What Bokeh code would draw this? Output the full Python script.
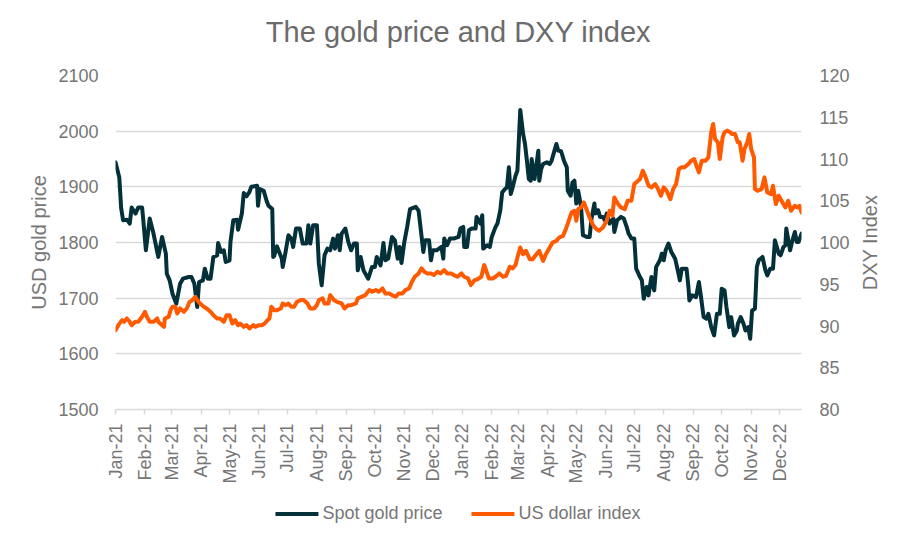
import math
import pandas as pd
from bokeh.plotting import figure
from bokeh.layouts import column, row
from bokeh.models import (Range1d, LinearAxis, FixedTicker, DatetimeTickFormatter,
                          Legend, LegendItem)
from bokeh.embed import file_html
from bokeh.resources import INLINE

# ---------------- data ----------------
gold_dates = [
    "2021-01-01", "2021-01-05", "2021-01-07", "2021-01-09", "2021-01-13", "2021-01-16",
    "2021-01-18", "2021-01-22", "2021-01-25", "2021-01-29", "2021-01-30", "2021-02-02",
    "2021-02-06", "2021-02-10", "2021-02-15", "2021-02-19", "2021-02-23", "2021-02-24",
    "2021-02-27", "2021-03-02", "2021-03-06", "2021-03-10", "2021-03-13", "2021-03-19",
    "2021-03-22", "2021-03-25", "2021-03-28", "2021-03-30", "2021-04-03", "2021-04-05",
    "2021-04-08", "2021-04-11", "2021-04-14", "2021-04-18", "2021-04-19", "2021-04-22",
    "2021-04-25", "2021-04-27", "2021-05-01", "2021-05-02", "2021-05-05", "2021-05-09",
    "2021-05-10", "2021-05-14", "2021-05-16", "2021-05-19", "2021-05-22", "2021-05-24",
    "2021-05-30", "2021-05-31", "2021-06-02", "2021-06-06", "2021-06-09", "2021-06-11",
    "2021-06-15", "2021-06-16", "2021-06-17", "2021-06-20", "2021-06-25", "2021-06-26",
    "2021-06-29", "2021-07-02", "2021-07-05", "2021-07-07", "2021-07-10", "2021-07-14",
    "2021-07-17", "2021-07-21", "2021-07-23", "2021-07-25", "2021-07-28", "2021-08-01",
    "2021-08-03", "2021-08-06", "2021-08-09", "2021-08-12", "2021-08-15", "2021-08-18",
    "2021-08-20", "2021-08-23", "2021-08-25", "2021-08-27", "2021-08-31", "2021-09-03",
    "2021-09-06", "2021-09-09", "2021-09-12", "2021-09-13", "2021-09-16", "2021-09-19",
    "2021-09-21", "2021-09-24", "2021-09-28", "2021-10-01", "2021-10-03", "2021-10-07",
    "2021-10-10", "2021-10-12", "2021-10-15", "2021-10-19", "2021-10-22", "2021-10-25",
    "2021-10-27", "2021-10-29", "2021-11-01", "2021-11-04", "2021-11-07", "2021-11-13",
    "2021-11-16", "2021-11-18", "2021-11-21", "2021-11-23", "2021-11-27", "2021-11-29",
    "2021-12-01", "2021-12-05", "2021-12-10", "2021-12-12", "2021-12-13", "2021-12-16",
    "2021-12-19", "2021-12-23", "2021-12-28", "2021-12-30",
    "2022-01-02", "2022-01-03", "2022-01-06", "2022-01-08", "2022-01-11", "2022-01-15",
    "2022-01-16", "2022-01-20", "2022-01-22", "2022-01-23", "2022-01-27", "2022-01-30",
    "2022-02-01", "2022-02-05", "2022-02-07", "2022-02-10", "2022-02-12", "2022-02-15",
    "2022-02-17", "2022-02-19", "2022-02-21", "2022-02-23", "2022-02-26", "2022-02-28",
    "2022-03-03", "2022-03-06", "2022-03-08", "2022-03-10", "2022-03-12", "2022-03-14",
    "2022-03-15", "2022-03-18", "2022-03-22", "2022-03-23", "2022-03-25", "2022-03-27",
    "2022-03-31", "2022-04-03", "2022-04-05", "2022-04-08", "2022-04-10", "2022-04-12",
    "2022-04-15", "2022-04-18", "2022-04-21", "2022-04-22", "2022-04-25", "2022-04-27",
    "2022-04-29", "2022-05-01", "2022-05-03", "2022-05-06", "2022-05-08", "2022-05-12",
    "2022-05-15", "2022-05-17", "2022-05-20", "2022-05-21", "2022-05-24", "2022-05-26",
    "2022-05-29", "2022-05-31", "2022-06-02", "2022-06-05", "2022-06-09", "2022-06-10",
    "2022-06-13", "2022-06-17", "2022-06-20", "2022-06-23", "2022-06-25", "2022-06-28",
    "2022-07-01", "2022-07-03", "2022-07-07", "2022-07-09", "2022-07-11", "2022-07-14",
    "2022-07-16", "2022-07-19", "2022-07-22", "2022-07-24", "2022-07-28", "2022-07-30",
    "2022-08-01", "2022-08-03", "2022-08-06", "2022-08-09", "2022-08-13", "2022-08-15",
    "2022-08-18", "2022-08-20", "2022-08-25", "2022-08-27", "2022-08-28", "2022-08-31",
    "2022-09-04", "2022-09-07", "2022-09-09", "2022-09-12", "2022-09-15", "2022-09-17",
    "2022-09-20", "2022-09-23", "2022-09-26", "2022-09-29", "2022-10-01", "2022-10-04",
    "2022-10-06", "2022-10-09", "2022-10-11", "2022-10-14", "2022-10-17", "2022-10-18",
    "2022-10-21", "2022-10-24", "2022-10-26", "2022-10-29", "2022-10-31", "2022-11-02",
    "2022-11-05", "2022-11-07", "2022-11-09", "2022-11-13", "2022-11-16", "2022-11-18",
    "2022-11-21", "2022-11-24", "2022-11-26", "2022-11-30", "2022-12-02", "2022-12-05",
    "2022-12-07", "2022-12-08", "2022-12-12", "2022-12-14", "2022-12-17", "2022-12-19",
    "2022-12-21", "2022-12-24",
]
gold_price = [
    1944, 1917, 1861, 1840, 1841, 1834,
    1863, 1852, 1863, 1863, 1845, 1786,
    1843, 1816, 1774, 1810, 1780, 1744,
    1732, 1708, 1690, 1726, 1735, 1738,
    1738, 1726, 1684, 1729, 1732, 1753,
    1735, 1735, 1774, 1777, 1799, 1783,
    1786, 1765, 1768, 1801, 1840, 1841,
    1823, 1852, 1889, 1883, 1891, 1900,
    1902, 1866, 1896, 1893, 1875, 1866,
    1860, 1774, 1776, 1793, 1771, 1756,
    1783, 1813, 1807, 1792, 1825, 1825,
    1798, 1798, 1831, 1798, 1831, 1831,
    1762, 1723, 1777, 1789, 1786, 1807,
    1789, 1813, 1786, 1816, 1825, 1801,
    1786, 1798, 1798, 1750, 1774, 1750,
    1744, 1735, 1756, 1756, 1774, 1759,
    1799, 1768, 1771, 1810, 1804, 1771,
    1792, 1763, 1801, 1828, 1860, 1864,
    1857, 1828, 1783, 1804, 1804, 1768,
    1786, 1786, 1792, 1771, 1807, 1795,
    1807, 1807, 1810, 1825,
    1828, 1792, 1792, 1822, 1825, 1825,
    1846, 1834, 1849, 1789, 1795, 1792,
    1810, 1828, 1834, 1858, 1890, 1896,
    1899, 1935, 1887, 1899, 1920, 1929,
    2038, 1995, 1977, 1947, 1914, 1911,
    1950, 1914, 1965, 1911, 1932, 1941,
    1944, 1941, 1947, 1965, 1977, 1965,
    1964, 1947, 1935, 1893, 1884, 1908,
    1911, 1870, 1893, 1864, 1813, 1810,
    1810, 1843, 1870, 1852, 1858, 1846,
    1846, 1840, 1852, 1834, 1843, 1819,
    1840, 1846, 1843, 1828, 1816, 1807,
    1807, 1753, 1738, 1732, 1699, 1720,
    1705, 1738, 1714, 1756, 1768, 1780,
    1768, 1786, 1798, 1783, 1771, 1756,
    1732, 1753, 1753, 1720, 1696, 1705,
    1702, 1729, 1705, 1666, 1663, 1672,
    1648, 1633, 1672, 1672, 1717, 1714,
    1684, 1648, 1666, 1633, 1642, 1654,
    1666, 1654, 1642, 1648, 1627, 1678,
    1681, 1756, 1768, 1774, 1750, 1741,
    1753, 1753, 1804, 1780, 1777, 1792,
    1795, 1825, 1786, 1801, 1819, 1801,
    1801, 1816,
]

dxy_dates = [
    "2021-01-01", "2021-01-04", "2021-01-08", "2021-01-10", "2021-01-13", "2021-01-16",
    "2021-01-18", "2021-01-22", "2021-01-25", "2021-01-29", "2021-02-01", "2021-02-03",
    "2021-02-06", "2021-02-10", "2021-02-14", "2021-02-15", "2021-02-19", "2021-02-21",
    "2021-02-22", "2021-02-26", "2021-02-28", "2021-03-02", "2021-03-05", "2021-03-07",
    "2021-03-10", "2021-03-14", "2021-03-17", "2021-03-20", "2021-03-22", "2021-03-26",
    "2021-03-28", "2021-03-31", "2021-04-04", "2021-04-07", "2021-04-11", "2021-04-14",
    "2021-04-18", "2021-04-21", "2021-04-25", "2021-04-28", "2021-05-01", "2021-05-04",
    "2021-05-07", "2021-05-10", "2021-05-12", "2021-05-16", "2021-05-19", "2021-05-22",
    "2021-05-26", "2021-05-28", "2021-06-01", "2021-06-04", "2021-06-07", "2021-06-10",
    "2021-06-12", "2021-06-14", "2021-06-17", "2021-06-20", "2021-06-24", "2021-06-26",
    "2021-06-29", "2021-07-02", "2021-07-05", "2021-07-08", "2021-07-11", "2021-07-15",
    "2021-07-18", "2021-07-22", "2021-07-25", "2021-07-29", "2021-08-01", "2021-08-03",
    "2021-08-07", "2021-08-09", "2021-08-13", "2021-08-15", "2021-08-19", "2021-08-22",
    "2021-08-27", "2021-08-30", "2021-09-03", "2021-09-06", "2021-09-11", "2021-09-13",
    "2021-09-17", "2021-09-21", "2021-09-25", "2021-09-28", "2021-10-02", "2021-10-05",
    "2021-10-09", "2021-10-12", "2021-10-16", "2021-10-19", "2021-10-23", "2021-10-26",
    "2021-10-30", "2021-11-02", "2021-11-06", "2021-11-09", "2021-11-12", "2021-11-16",
    "2021-11-19", "2021-11-22", "2021-11-25", "2021-11-29", "2021-12-02", "2021-12-06",
    "2021-12-09", "2021-12-13", "2021-12-16", "2021-12-20", "2021-12-23", "2021-12-27",
    "2021-12-31",
    "2022-01-03", "2022-01-07", "2022-01-10", "2022-01-14", "2022-01-17", "2022-01-21",
    "2022-01-24", "2022-01-26", "2022-01-29", "2022-02-02", "2022-02-05", "2022-02-09",
    "2022-02-13", "2022-02-16", "2022-02-20", "2022-02-23", "2022-02-26", "2022-02-28",
    "2022-03-03", "2022-03-06", "2022-03-09", "2022-03-13", "2022-03-16", "2022-03-20",
    "2022-03-23", "2022-03-27", "2022-03-30", "2022-04-03", "2022-04-06", "2022-04-10",
    "2022-04-13", "2022-04-17", "2022-04-20", "2022-04-23", "2022-04-26", "2022-04-29",
    "2022-05-01", "2022-05-03", "2022-05-06", "2022-05-09", "2022-05-11", "2022-05-15",
    "2022-05-18", "2022-05-22", "2022-05-25", "2022-05-29", "2022-06-02", "2022-06-05",
    "2022-06-08", "2022-06-10", "2022-06-14", "2022-06-17", "2022-06-21", "2022-06-24",
    "2022-06-28", "2022-07-01", "2022-07-03", "2022-07-07", "2022-07-10", "2022-07-13",
    "2022-07-16", "2022-07-19", "2022-07-23", "2022-07-26", "2022-07-29", "2022-08-01",
    "2022-08-04", "2022-08-08", "2022-08-11", "2022-08-14", "2022-08-17", "2022-08-20",
    "2022-08-23", "2022-08-27", "2022-08-30", "2022-09-02", "2022-09-05", "2022-09-07",
    "2022-09-10", "2022-09-14", "2022-09-17", "2022-09-20", "2022-09-22", "2022-09-24",
    "2022-09-27", "2022-09-29", "2022-10-02", "2022-10-04", "2022-10-07", "2022-10-10",
    "2022-10-12", "2022-10-15", "2022-10-18", "2022-10-20", "2022-10-23", "2022-10-25",
    "2022-10-28", "2022-10-30", "2022-11-01", "2022-11-04", "2022-11-05", "2022-11-08",
    "2022-11-12", "2022-11-15", "2022-11-18", "2022-11-22", "2022-11-24", "2022-11-27",
    "2022-11-30", "2022-12-03", "2022-12-07", "2022-12-10", "2022-12-13", "2022-12-17",
    "2022-12-20", "2022-12-22", "2022-12-24",
]
dxy_index = [
    89.5, 90.1, 90.7, 90.5, 90.9, 90.5,
    90.1, 90.5, 90.5, 91.1, 91.7, 91.1,
    90.5, 90.5, 90.9, 90.5, 90.1, 89.9,
    90.9, 91.1, 91.9, 92.3, 92.3, 91.5,
    92.1, 91.7, 92.1, 92.9, 93.0, 93.5,
    93.1, 92.7, 92.3, 92.1, 91.7, 91.3,
    90.9, 90.9, 90.5, 91.3, 91.3, 90.3,
    90.7, 90.1, 90.3, 89.9, 90.1, 89.7,
    90.1, 89.9, 90.1, 90.1, 90.3, 90.7,
    90.9, 92.3, 91.9, 91.9, 92.1, 92.7,
    92.5, 92.7, 92.3, 92.3, 92.9, 93.1,
    93.1, 92.7, 92.1, 92.1, 92.5, 93.1,
    93.3, 92.7, 92.7, 93.7, 93.1, 92.9,
    92.7, 92.1, 92.5, 92.5, 92.7, 93.3,
    93.5, 93.7, 94.3, 94.1, 94.3, 94.1,
    94.5, 93.9, 93.9, 93.7, 93.5, 93.9,
    93.9, 94.3, 94.5, 95.3, 95.9, 96.3,
    96.9, 96.5, 96.3, 96.3, 96.1, 96.5,
    96.3, 96.7, 96.3, 96.3, 96.1, 95.9,
    96.3,
    95.9, 95.7, 94.9, 95.5, 95.6, 95.9,
    97.3, 96.7, 95.7, 95.7, 95.9, 96.3,
    95.9, 96.0, 97.1, 96.9, 97.3, 98.2,
    99.4, 98.6, 99.0, 98.0, 98.0, 98.6,
    99.0, 97.8, 98.6, 99.4, 100.0, 100.2,
    100.6, 100.8, 101.6, 102.6, 103.6, 103.8,
    102.6, 104.0, 104.2, 104.8, 104.2, 103.0,
    102.2, 101.6, 101.4, 101.8, 102.6, 103.8,
    103.2, 105.4, 104.6, 104.2, 104.0, 105.0,
    105.0, 107.0, 107.2, 107.6, 108.6, 107.8,
    106.8, 106.6, 107.0, 106.4, 105.6, 106.6,
    106.2, 105.2, 106.4, 107.0, 108.8, 109.0,
    109.0, 109.4, 109.8, 110.0, 109.0, 108.4,
    109.8, 109.8, 110.2, 113.2, 114.2, 112.4,
    112.0, 110.0, 112.6, 113.2, 113.4, 113.2,
    113.0, 113.0, 112.0, 112.0, 109.8, 111.2,
    112.0, 113.0, 111.2, 110.2, 106.4, 106.2,
    106.4, 107.8, 106.0, 105.8, 106.8, 104.6,
    105.6, 105.0, 104.2, 105.0, 103.8, 104.4,
    104.2, 104.4, 103.6,
]

gold_ticks = [1500, 1600, 1700, 1800, 1900, 2000, 2100]
dxy_ticks = [80, 85, 90, 95, 100, 105, 110, 115, 120]
period_start = "2021-01-01"
period_end = "2022-12-24"
title_text = "The gold price and DXY index"
left_title = "USD gold price"
right_title = "DXY Index"
series_names = ["Spot gold price", "US dollar index"]

# ---------------- styling ----------------
FONT = "Liberation Sans"
TXT = "#767676"
GRID = "#d9d9d9"
GOLD_C = "#04303a"
DXY_C = "#ff5a00"

gx = pd.to_datetime(gold_dates)
dx = pd.to_datetime(dxy_dates)

# ---------------- header strip carrying the chart title ----------------
hf = figure(width=907, height=65, output_backend="svg", toolbar_location=None,
            x_range=Range1d(0, 1), y_range=Range1d(0, 1),
            x_axis_location=None, y_axis_location=None,
            min_border_left=115, min_border_right=106,
            min_border_top=0, min_border_bottom=0)
hf.grid.visible = False
hf.outline_line_color = None
hf.border_fill_color = "white"
hf.background_fill_color = "white"
hf.title.text = title_text
hf.title.align = "center"
hf.title.vertical_align = "top"
hf.title.text_font = FONT
hf.title.text_font_size = "29px"
hf.title.text_font_style = "normal"
hf.title.text_color = "#6b6b6b"
hf.title.standoff = 30

# ---------------- main chart ----------------
p = figure(width=855, height=425, x_axis_type="datetime",
           x_range=Range1d(pd.Timestamp(period_start), pd.Timestamp(period_end)),
           y_range=Range1d(gold_ticks[0], gold_ticks[-1]),
           output_backend="svg", toolbar_location=None,
           min_border_left=115, min_border_right=54,
           min_border_top=10, min_border_bottom=81)
p.extra_y_ranges = {"dxy": Range1d(dxy_ticks[0], dxy_ticks[-1])}
p.outline_line_color = None
p.background_fill_color = "white"
p.border_fill_color = "white"

# grids
p.xgrid.grid_line_color = None
p.ygrid.grid_line_color = GRID
p.ygrid.grid_line_width = 1.5

# x axis
month_ticks = [int(t.value // 10**6) for t in
               pd.date_range(period_start, period_end, freq="MS")]
xa = p.xaxis[0]
xa.ticker = FixedTicker(ticks=month_ticks)
xa.formatter = DatetimeTickFormatter(days="%b-%y", months="%b-%y", years="%b-%y",
                                     hours="%b-%y", minutes="%b-%y")
xa.major_label_orientation = math.pi / 2
xa.axis_line_color = GRID
xa.axis_line_width = 1.5
xa.major_tick_line_color = GRID
xa.major_tick_line_width = 1.5
xa.major_tick_out = 5
xa.major_tick_in = 0
xa.minor_tick_line_color = None
xa.major_label_standoff = 9
xa.major_label_text_font = FONT
xa.major_label_text_font_size = "18px"
xa.major_label_text_color = TXT

# left axis
ya = p.yaxis[0]
ya.ticker = FixedTicker(ticks=gold_ticks)
ya.axis_line_color = None
ya.major_tick_line_color = None
ya.minor_tick_line_color = None
ya.major_tick_out = 0
ya.major_tick_in = 0
ya.major_label_standoff = 17
ya.major_label_text_font = FONT
ya.major_label_text_font_size = "18px"
ya.major_label_text_color = TXT
ya.axis_label = left_title
ya.axis_label_text_font = FONT
ya.axis_label_text_font_size = "20px"
ya.axis_label_text_font_style = "normal"
ya.axis_label_text_color = TXT
ya.axis_label_standoff = 5

# right axis (tick labels only; its title sits in the strip to the right)
ra = LinearAxis(y_range_name="dxy", ticker=FixedTicker(ticks=dxy_ticks))
ra.axis_line_color = None
ra.major_tick_line_color = None
ra.minor_tick_line_color = None
ra.major_tick_out = 0
ra.major_tick_in = 0
ra.major_label_standoff = 18
ra.major_label_text_font = FONT
ra.major_label_text_font_size = "18px"
ra.major_label_text_color = TXT
p.add_layout(ra, "right")

# lines
r_gold = p.line(gx, gold_price, line_color=GOLD_C, line_width=4,
                line_join="round", line_cap="round")
r_dxy = p.line(dx, dxy_index, y_range_name="dxy", line_color=DXY_C, line_width=4,
               line_join="round", line_cap="round")

# ---------------- right strip carrying the "DXY Index" axis title ----------------
rs = figure(width=52, height=425, output_backend="svg", toolbar_location=None,
            x_range=Range1d(0, 1), y_range=Range1d(dxy_ticks[0], dxy_ticks[-1]),
            x_axis_location=None, y_axis_location="left",
            min_border_left=24, min_border_right=0,
            min_border_top=10, min_border_bottom=81)
rs.grid.visible = False
rs.outline_line_color = None
rs.border_fill_color = "white"
sa = rs.yaxis[0]
sa.ticker = FixedTicker(ticks=[])
sa.axis_line_color = None
sa.major_tick_line_color = None
sa.minor_tick_line_color = None
sa.major_tick_out = 0
sa.major_tick_in = 0
sa.major_label_standoff = 0
sa.major_label_text_font_size = "0px"
sa.axis_label = right_title
sa.axis_label_text_font = FONT
sa.axis_label_text_font_size = "20px"
sa.axis_label_text_font_style = "normal"
sa.axis_label_text_color = TXT
sa.axis_label_standoff = 0

# ---------------- legend strip below the chart ----------------
# (legend swatch renderers sit outside the strip's visible range, only the legend shows)
lf = figure(width=907, height=46, output_backend="svg", toolbar_location=None,
            x_range=Range1d(0, 1), y_range=Range1d(0, 1),
            min_border_left=0, min_border_right=0, min_border_top=0, min_border_bottom=0)
lf.axis.visible = False
lf.grid.visible = False
lf.outline_line_color = None
lf.border_fill_color = "white"
hidden = [5, 6]
lg_gold = lf.line(hidden, hidden, line_color=GOLD_C, line_width=4, line_cap="round")
lg_dxy = lf.line(hidden, hidden, line_color=DXY_C, line_width=4, line_cap="round")
legend = Legend(items=[LegendItem(label=series_names[0], renderers=[lg_gold]),
                       LegendItem(label=series_names[1], renderers=[lg_dxy])],
                orientation="horizontal", location="center",
                label_text_font=FONT, label_text_font_size="18px",
                label_text_color=TXT, glyph_width=43, glyph_height=20,
                label_standoff=4, spacing=29, padding=4, margin=0,
                border_line_color=None, background_fill_alpha=0)
lf.add_layout(legend, "center")

layout = column(hf, row(p, rs, spacing=0), lf, spacing=0)
open("out.html", "w").write(file_html(layout, INLINE))
